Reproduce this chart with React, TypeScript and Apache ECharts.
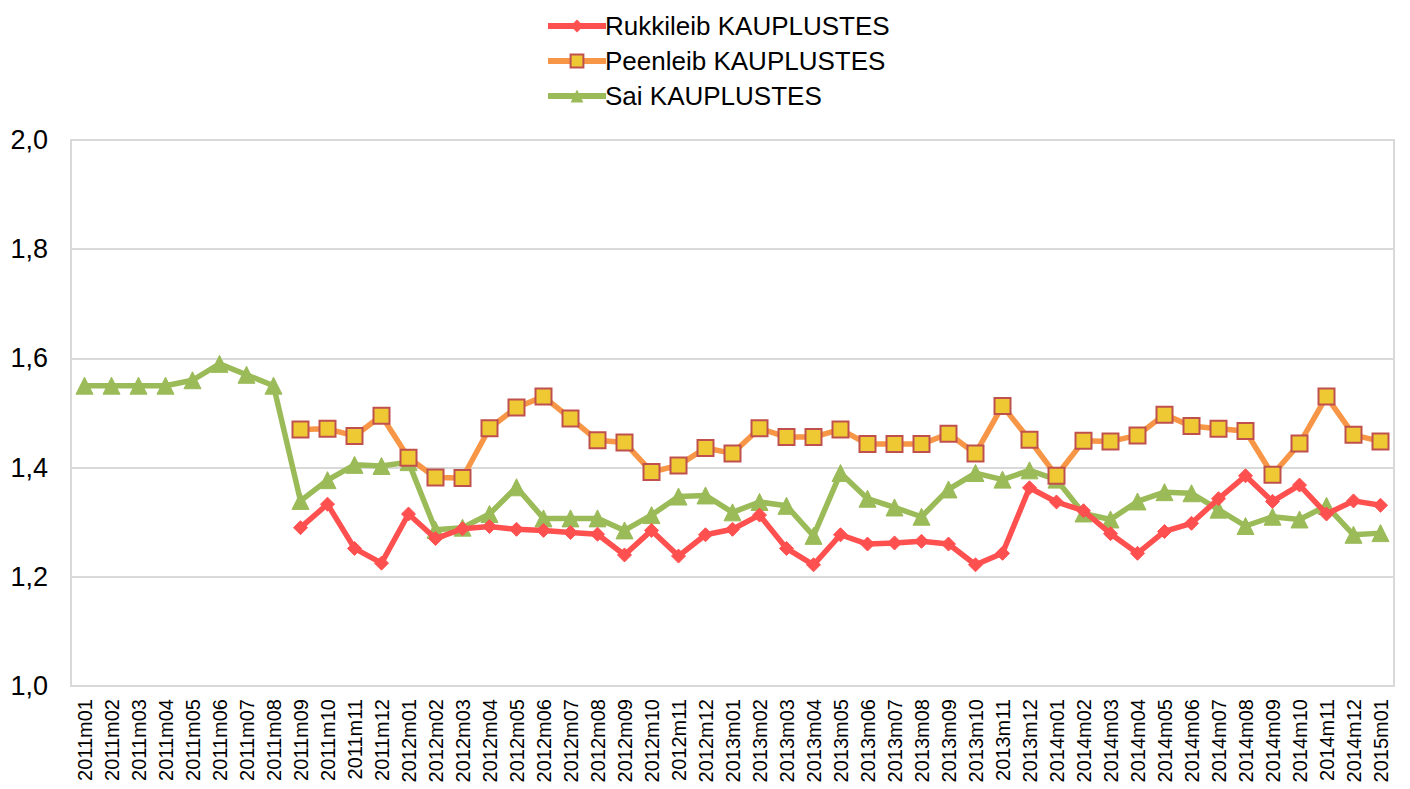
import React, { useEffect, useRef } from "react";
import * as echarts from "echarts";

const categories: string[] = [];
for (const y of [2011, 2012, 2013, 2014]) {
  for (let m = 1; m <= 12; m++) categories.push(`${y}m${m < 10 ? "0" + m : m}`);
}
categories.push("2015m01");

const rukkileib: (number | null)[] = [
  null, null, null, null, null, null, null, null,
  1.29, 1.333, 1.252, 1.225,
  1.315, 1.27, 1.288, 1.292, 1.287, 1.285, 1.281, 1.278, 1.24, 1.285, 1.238, 1.277,
  1.287, 1.313, 1.252, 1.222, 1.277, 1.26, 1.262, 1.265, 1.26, 1.222, 1.243, 1.363,
  1.337, 1.321, 1.279, 1.243, 1.283, 1.298, 1.343, 1.385, 1.338, 1.368, 1.315, 1.339,
  1.331,
];

const peenleib: (number | null)[] = [
  null, null, null, null, null, null, null, null,
  1.47, 1.471, 1.458, 1.495,
  1.418, 1.382, 1.381, 1.472, 1.51, 1.53, 1.49, 1.45, 1.446, 1.392, 1.404, 1.436,
  1.426, 1.472, 1.456, 1.456, 1.47, 1.443, 1.443, 1.443, 1.462, 1.426, 1.513, 1.451,
  1.385, 1.449, 1.448, 1.459, 1.497, 1.476, 1.471, 1.467, 1.387, 1.444, 1.53, 1.46,
  1.448,
];

const sai: number[] = [
  1.55, 1.55, 1.55, 1.55, 1.56, 1.59, 1.57, 1.55,
  1.339, 1.377, 1.405, 1.403,
  1.41, 1.286, 1.29, 1.315, 1.364, 1.307, 1.307, 1.307, 1.285, 1.313, 1.347, 1.349,
  1.318, 1.337, 1.33, 1.275, 1.39, 1.343, 1.327, 1.31, 1.36, 1.39, 1.378, 1.395,
  1.378, 1.316, 1.305, 1.338, 1.355, 1.353, 1.323, 1.293, 1.31, 1.305, 1.33, 1.277,
  1.28,
];

const seriesNames = ["Rukkileib KAUPLUSTES", "Peenleib KAUPLUSTES", "Sai KAUPLUSTES"];

export default function App() {
  const ref = useRef<HTMLDivElement>(null);
  useEffect(() => {
    if (!ref.current) return;
    const chart = echarts.init(ref.current, undefined, { renderer: "svg" });
    const font = "Arial, Liberation Sans, sans-serif";
    chart.setOption({
      animation: false,
      textStyle: { fontFamily: font },
      legend: {
        orient: "vertical",
        left: 540,
        top: 8,
        itemWidth: 58,
        itemHeight: 16,
        itemGap: 9,
        lineStyle: { width: 6 },
        textStyle: { fontSize: 26, color: "#000", fontFamily: font, padding: [0, 0, 0, -6] },
        data: seriesNames,
      },
      grid: {
        left: 71,
        right: 16,
        top: 140,
        bottom: 103,
        show: true,
        borderColor: "#d9d9d9",
        borderWidth: 2,
      },
      xAxis: {
        type: "category",
        data: categories,
        boundaryGap: true,
        axisLine: { show: true, lineStyle: { color: "#d9d9d9", width: 2 } },
        axisTick: { show: false },
        axisLabel: {
          interval: 0,
          rotate: 90,
          fontSize: 20,
          color: "#000",
          fontFamily: font,
          margin: 13,
        },
      },
      yAxis: {
        type: "value",
        min: 1.0,
        max: 2.0,
        interval: 0.2,
        axisLine: { show: true, lineStyle: { color: "#d9d9d9", width: 2 } },
        axisTick: { show: false },
        splitLine: { lineStyle: { color: "#d9d9d9", width: 2 } },
        axisLabel: {
          fontSize: 27,
          color: "#000",
          fontFamily: font,
          margin: 23,
          formatter: (v: number) => v.toFixed(1).replace(".", ","),
        },
      },
      series: [
        {
          name: seriesNames[0],
          type: "line",
          data: rukkileib,
          symbol: "diamond",
          symbolSize: 14,
          lineStyle: { color: "#FF5050", width: 5.5 },
          itemStyle: { color: "#FF5050", borderColor: "#FF5050" },
          z: 4,
        },
        {
          name: seriesNames[1],
          type: "line",
          data: peenleib,
          symbol: "rect",
          symbolSize: 16,
          lineStyle: { color: "#F79646", width: 5.5 },
          itemStyle: { color: "#EEC933", borderColor: "#C0504D", borderWidth: 2 },
          z: 3,
        },
        {
          name: seriesNames[2],
          type: "line",
          data: sai,
          symbol: "triangle",
          symbolSize: 17,
          lineStyle: { color: "#9BBB59", width: 5.5 },
          itemStyle: { color: "#9BBB59", borderColor: "#9BBB59" },
          z: 2,
        },
      ],
    });
    return () => chart.dispose();
  }, []);
  return <div ref={ref} style={{ width: 1410, height: 789, position: "absolute", left: 0, top: 0 }} />;
}
